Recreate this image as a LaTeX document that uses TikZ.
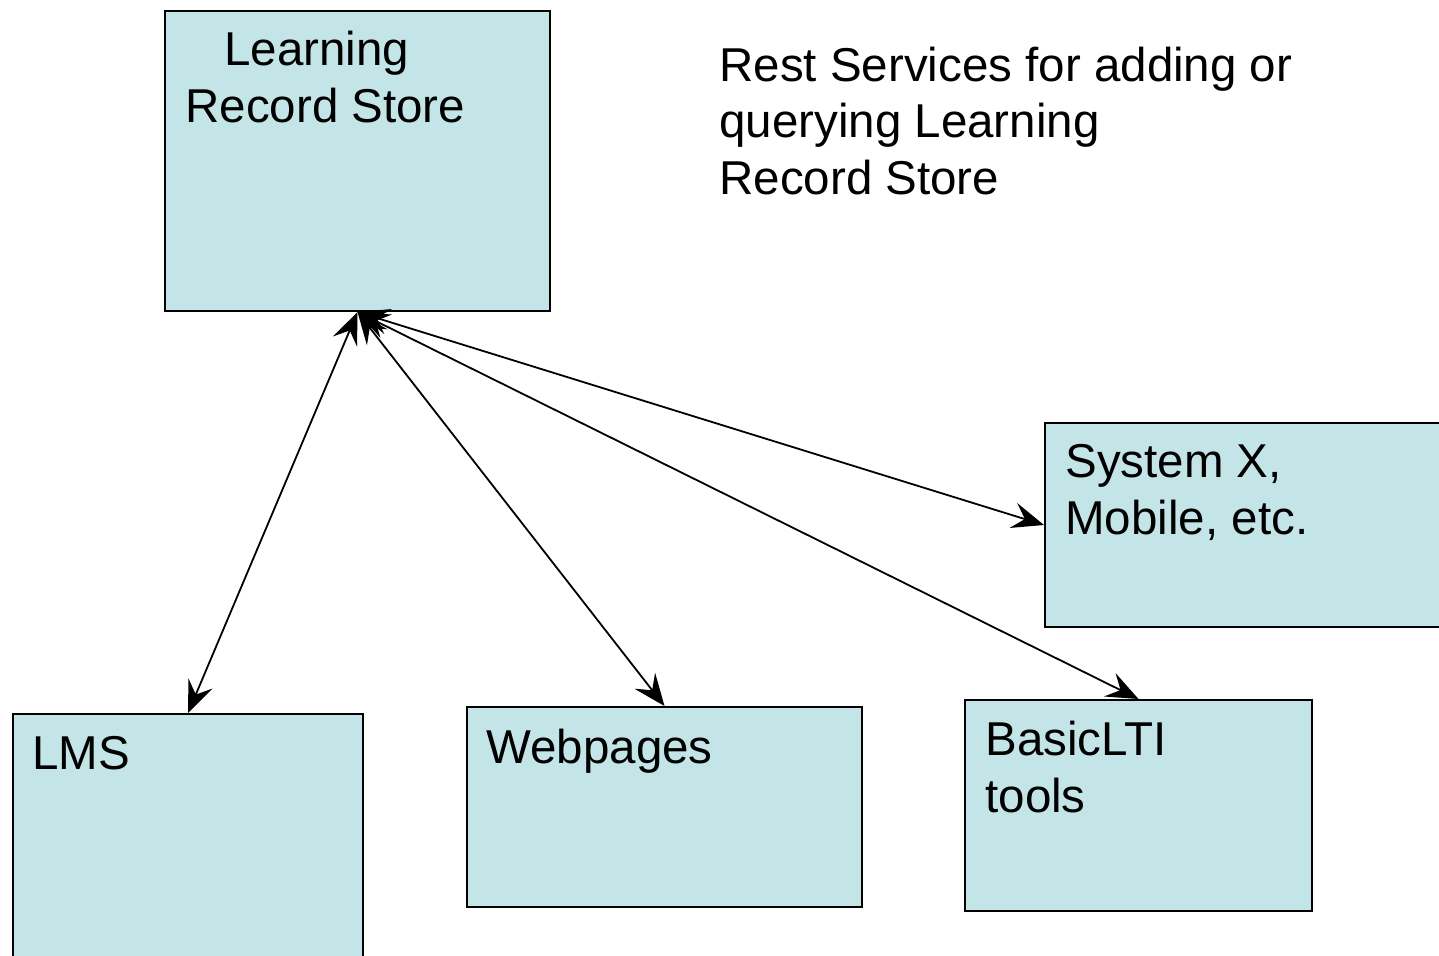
\documentclass[tikz,border=0pt]{standalone}
\usepackage{fontspec}
\setmainfont{Liberation Sans}
\usetikzlibrary{arrows.meta,positioning}
\definecolor{boxblue}{RGB}{196,229,231}

\begin{document}
\begin{tikzpicture}[x=0.5pt,y=-0.5pt,
        box/.style={draw=black,line width=1pt,fill=boxblue,anchor=north west,inner sep=0pt},
        lbl/.style={anchor=base west,align=left,inner sep=0pt,font=\fontsize{23.75}{28.25}\selectfont},
        link/.style={{Stealth[length=16pt,width=13pt,inset=6pt]}-{Stealth[length=16pt,width=13pt,inset=6pt]},line width=0.9pt}]
    \useasboundingbox (0,0) rectangle (1439,955);

    % Boxes:
    \node[box,minimum width=192.5pt,minimum height=150pt] (lrs)  at (164,10)   {};
    \node[box,minimum width=215pt,minimum height=102pt]   (sysx) at (1044,422) {};
    \node[box,minimum width=175pt,minimum height=135pt]   (lms)  at (12,713)   {};
    \node[box,minimum width=197.5pt,minimum height=100pt] (web)  at (466,706)  {};
    \node[box,minimum width=173.5pt,minimum height=105.5pt] (blti) at (964,699) {};

    % Texts (base = last line)
    \node[lbl] (lrstext)  at (185,122)  {\hspace*{19.5pt}Learning\\Record Store};
    \node[lbl] (resttext) at (719,194)  {Rest Services for adding or\\querying Learning\\Record Store};
    \node[lbl] (sysxtext) at (1065,534) {System X,\\Mobile, etc.};
    \node[lbl] (lmstext)  at (32,769)   {LMS};
    \node[lbl] (webtext)  at (486,763)  {Webpages};
    \node[lbl] (bltitext) at (985,812)  {BasicLTI\\tools};

    % Links
    \draw[link] (lrs.south) -- (lms.north);
    \draw[link] (lrs.south) -- (web.north);
    \draw[link] (lrs.south) -- (blti.north);
    \draw[link] (lrs.south) -- (sysx.west);
\end{tikzpicture}
\end{document}
